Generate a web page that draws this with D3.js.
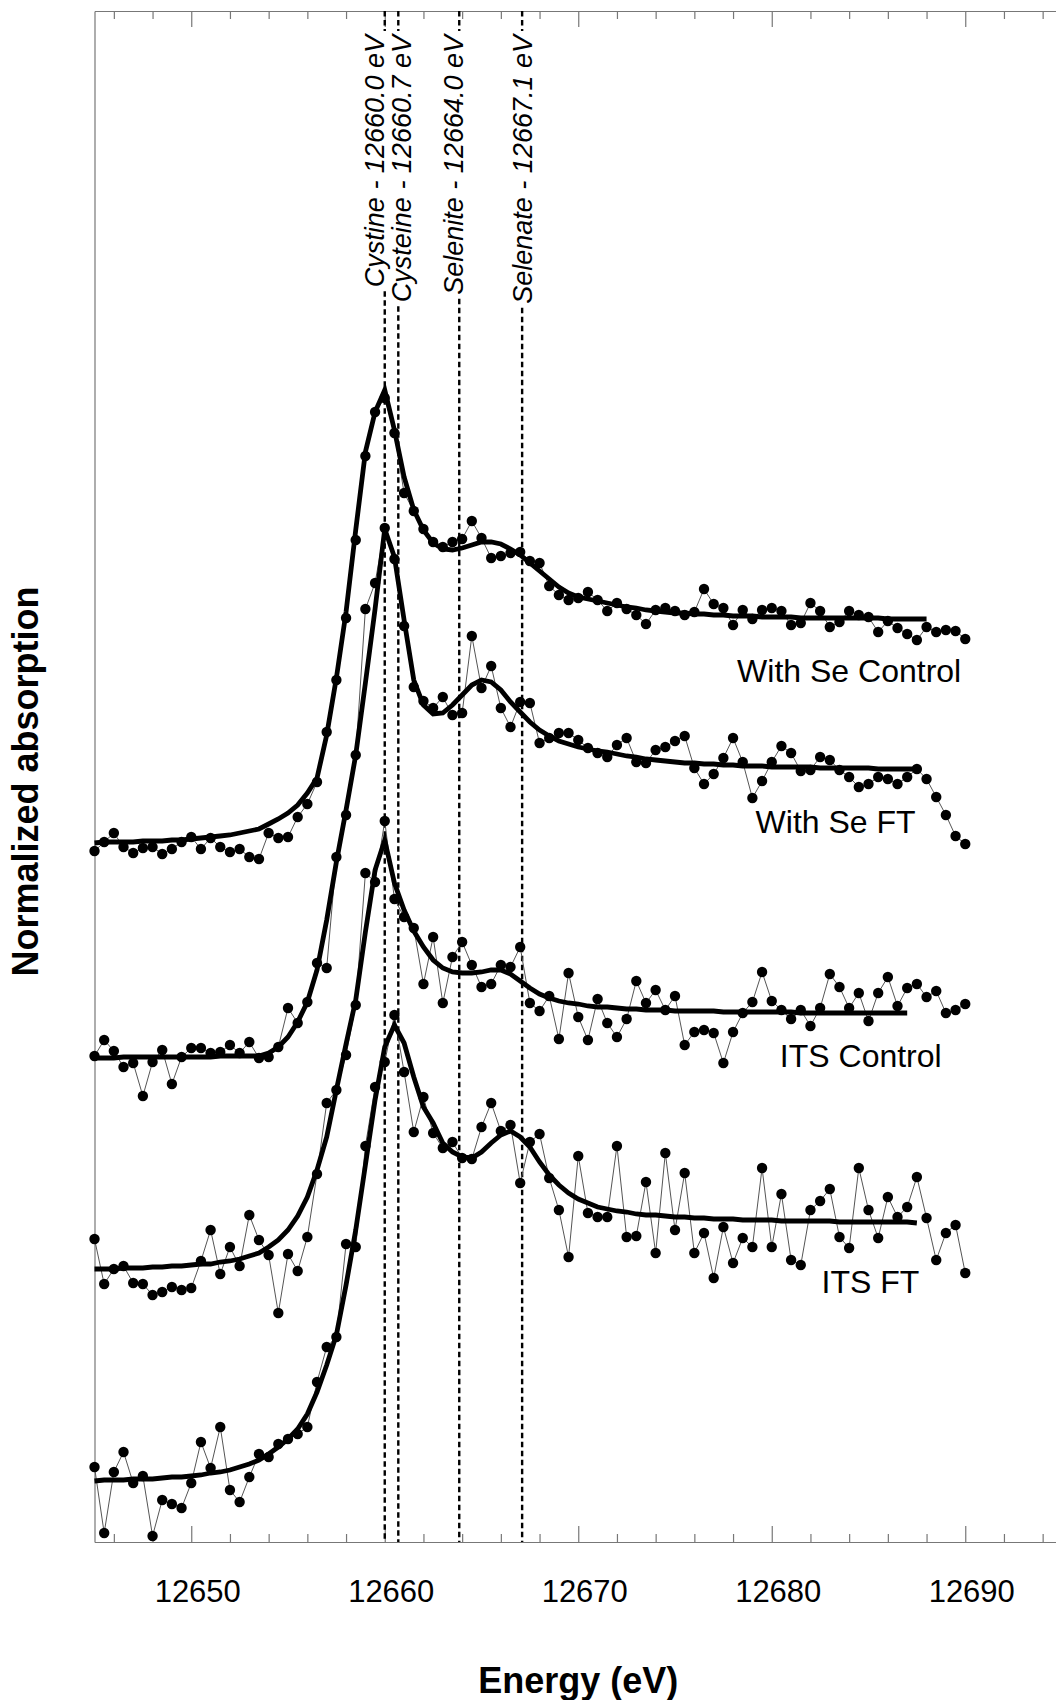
<!DOCTYPE html>
<html>
<head>
<meta charset="utf-8">
<script src="https://cdn.jsdelivr.net/npm/d3@7/dist/d3.min.js"></script>
<style>
  body { margin: 0; background: #fff; }
  svg { display: block; font-family: "Liberation Sans", Arial, sans-serif; }
</style>
</head>
<body>
<div id="chart"></div>
<script>
// scan grid: 12645 eV upward in 0.5 eV steps
const energyStart = 12645, energyStep = 0.5;

// stacked normalized absorption (each spectrum carries its own vertical offset)
const withSeControl = [
  6.91, 7.00, 7.09, 6.95, 6.89, 6.94, 6.95, 6.88, 6.93, 7.00,
  7.05, 6.93, 7.04, 6.95, 6.90, 6.93, 6.85, 6.83, 7.09, 7.04,
  7.05, 7.25, 7.38, 7.60, 8.10, 8.62, 9.24, 10.02, 10.86, 11.30,
  11.44, 11.09, 10.49, 10.31, 10.13, 10.00, 9.95, 10.00, 10.03, 10.21,
  10.04, 9.84, 9.86, 9.89, 9.90, 9.81, 9.79, 9.56, 9.47, 9.42,
  9.44, 9.50, 9.42, 9.31, 9.39, 9.33, 9.27, 9.18, 9.32, 9.34,
  9.31, 9.27, 9.30, 9.53, 9.38, 9.34, 9.17, 9.32, 9.23, 9.32,
  9.34, 9.31, 9.17, 9.19, 9.39, 9.31, 9.15, 9.20, 9.31, 9.27,
  9.25, 9.10, 9.21, 9.14, 9.08, 9.02, 9.15, 9.10, 9.12, 9.11,
  9.03];
const withSeControlFit = [
  6.99, 7.00, 7.00, 7.00, 7.00, 7.01, 7.01, 7.01, 7.02, 7.02,
  7.03, 7.04, 7.05, 7.06, 7.07, 7.09, 7.11, 7.13, 7.18, 7.23,
  7.29, 7.37, 7.49, 7.64, 8.07, 8.64, 9.30, 10.12, 10.90, 11.30,
  11.52, 11.12, 10.65, 10.32, 10.12, 9.99, 9.93, 9.92, 9.94, 9.97,
  10.00, 10.00, 9.98, 9.93, 9.87, 9.79, 9.71, 9.63, 9.55, 9.49,
  9.45, 9.43, 9.41, 9.39, 9.37, 9.35, 9.34, 9.32, 9.31, 9.30,
  9.29, 9.29, 9.28, 9.28, 9.27, 9.27, 9.26, 9.26, 9.26, 9.25,
  9.25, 9.25, 9.25, 9.24, 9.24, 9.24, 9.24, 9.24, 9.24, 9.24,
  9.24, 9.24, 9.23, 9.23, 9.23, 9.23, 9.23];

const withSeFT = [
  4.86, 5.02, 4.91, 4.75, 4.79, 4.46, 4.80, 4.92, 4.58, 4.85,
  4.94, 4.94, 4.89, 4.90, 4.97, 4.89, 5.00, 4.84, 4.85, 4.95,
  5.34, 5.19, 5.40, 5.79, 5.74, 6.85, 7.27, 7.87, 9.33, 9.59,
  10.14, 9.83, 9.16, 8.55, 8.41, 8.34, 8.45, 8.27, 8.29, 9.06,
  8.54, 8.76, 8.34, 8.15, 8.40, 8.39, 7.99, 8.04, 8.09, 8.09,
  8.02, 7.94, 7.89, 7.85, 7.97, 8.04, 7.80, 7.79, 7.92, 7.95,
  8.01, 8.06, 7.74, 7.58, 7.68, 7.84, 8.04, 7.80, 7.44, 7.61,
  7.80, 7.96, 7.89, 7.71, 7.72, 7.85, 7.82, 7.72, 7.65, 7.55,
  7.58, 7.65, 7.63, 7.58, 7.65, 7.73, 7.63, 7.45, 7.27, 7.06,
  6.98];
const withSeFTFit = [
  4.84, 4.84, 4.84, 4.85, 4.85, 4.85, 4.85, 4.85, 4.85, 4.85,
  4.85, 4.85, 4.85, 4.86, 4.86, 4.86, 4.86, 4.86, 4.89, 4.95,
  5.05, 5.20, 5.40, 5.72, 6.22, 6.80, 7.32, 7.87, 8.59, 9.33,
  10.13, 9.85, 9.22, 8.62, 8.37, 8.28, 8.29, 8.37, 8.47, 8.57,
  8.62, 8.60, 8.52, 8.40, 8.30, 8.20, 8.12, 8.06, 8.01, 7.98,
  7.95, 7.93, 7.91, 7.90, 7.88, 7.86, 7.85, 7.83, 7.82, 7.81,
  7.80, 7.79, 7.79, 7.78, 7.78, 7.77, 7.77, 7.76, 7.76, 7.76,
  7.75, 7.75, 7.75, 7.75, 7.75, 7.74, 7.74, 7.74, 7.74, 7.74,
  7.74, 7.73, 7.73, 7.73, 7.73, 7.73];

const itsControl = [
  3.03, 2.58, 2.73, 2.76, 2.59, 2.58, 2.47, 2.50, 2.55, 2.52,
  2.54, 2.81, 3.12, 2.68, 2.95, 2.76, 3.27, 3.02, 2.87, 2.29,
  2.88, 2.71, 3.05, 3.68, 4.39, 4.52, 4.87, 5.37, 6.69, 6.60,
  7.21, 6.43, 6.25, 6.14, 5.58, 6.05, 5.39, 5.85, 6.00, 5.77,
  5.55, 5.58, 5.77, 5.75, 5.95, 5.39, 5.31, 5.46, 5.03, 5.69,
  5.25, 5.02, 5.43, 5.19, 5.05, 5.23, 5.61, 5.39, 5.52, 5.32,
  5.46, 4.97, 5.10, 5.12, 5.09, 4.79, 5.10, 5.29, 5.40, 5.70,
  5.41, 5.32, 5.23, 5.32, 5.16, 5.34, 5.68, 5.55, 5.34, 5.49,
  5.21, 5.49, 5.65, 5.36, 5.54, 5.58, 5.45, 5.51, 5.29, 5.32,
  5.38];
const itsControlFit = [
  2.73, 2.73, 2.73, 2.74, 2.74, 2.74, 2.75, 2.75, 2.76, 2.76,
  2.77, 2.78, 2.78, 2.80, 2.81, 2.83, 2.86, 2.89, 2.95, 3.02,
  3.12, 3.26, 3.45, 3.72, 4.05, 4.52, 4.98, 5.42, 6.10, 6.72,
  7.02, 6.59, 6.32, 6.11, 5.95, 5.82, 5.74, 5.70, 5.69, 5.69,
  5.70, 5.72, 5.72, 5.68, 5.61, 5.54, 5.48, 5.44, 5.41, 5.39,
  5.38, 5.36, 5.35, 5.35, 5.34, 5.33, 5.33, 5.32, 5.32, 5.32,
  5.31, 5.31, 5.31, 5.31, 5.31, 5.30, 5.30, 5.30, 5.30, 5.30,
  5.30, 5.30, 5.30, 5.29, 5.29, 5.29, 5.29, 5.29, 5.29, 5.29,
  5.29, 5.29, 5.29, 5.29, 5.29];

const itsFT = [
  0.75, 0.09, 0.70, 0.90, 0.59, 0.66, 0.06, 0.42, 0.38, 0.34,
  0.59, 1.00, 0.74, 1.15, 0.52, 0.40, 0.65, 0.88, 0.85, 0.98,
  1.03, 1.08, 1.15, 1.60, 1.95, 2.05, 2.98, 2.95, 3.96, 4.55,
  4.80, 5.27, 4.70, 4.10, 4.45, 4.09, 3.94, 4.00, 3.84, 3.83,
  4.15, 4.39, 4.11, 4.17, 3.59, 4.00, 4.08, 3.64, 3.32, 2.85,
  3.86, 3.29, 3.25, 3.25, 3.96, 3.05, 3.06, 3.60, 2.89, 3.89,
  3.12, 3.69, 2.89, 3.09, 2.64, 3.15, 2.79, 3.04, 2.95, 3.74,
  2.95, 3.48, 2.82, 2.77, 3.32, 3.41, 3.53, 3.05, 2.94, 3.74,
  3.32, 3.04, 3.45, 3.25, 3.35, 3.65, 3.24, 2.82, 3.09, 3.17,
  2.69];
const itsFTFit = [
  0.61, 0.62, 0.62, 0.62, 0.63, 0.63, 0.63, 0.64, 0.65, 0.65,
  0.66, 0.67, 0.69, 0.70, 0.72, 0.75, 0.78, 0.82, 0.88, 0.95,
  1.03, 1.13, 1.28, 1.50, 1.77, 2.07, 2.57, 3.12, 3.77, 4.42,
  4.95, 5.17, 4.99, 4.65, 4.35, 4.19, 3.99, 3.90, 3.85, 3.84,
  3.90, 3.99, 4.07, 4.11, 4.05, 3.95, 3.80, 3.67, 3.57, 3.49,
  3.43, 3.39, 3.35, 3.33, 3.31, 3.30, 3.28, 3.27, 3.27, 3.26,
  3.25, 3.25, 3.24, 3.24, 3.23, 3.23, 3.23, 3.22, 3.22, 3.22,
  3.22, 3.21, 3.21, 3.21, 3.21, 3.21, 3.21, 3.20, 3.20, 3.20,
  3.20, 3.20, 3.20, 3.20, 3.20, 3.19];

const seriesNames = ["With Se Control", "With Se FT", "ITS Control", "ITS FT"];
// where each name sits (energy, stacked absorption)
const nameEnergy = [12684.0, 12683.3, 12684.6, 12685.1];
const nameValue = [8.60, 7.09, 4.75, 2.49];

// reference edge energies
const refNames = ["Cystine", "Cysteine", "Selenite", "Selenate"];
const refLabels = ["12660.0", "12660.7", "12664.0", "12667.1"];
const refEnergies = [12660.0, 12660.7, 12663.85, 12667.1];

const majorTicks = [12650, 12660, 12670, 12680, 12690];
const minorTicks = d3.range(12646, 12695, 2).filter(d => d % 10 !== 0);

const width = 1056, height = 1700;
const xScale = d3.scaleLinear().domain([12645, 12695]).range([94.5, 1062]);
const yScale = d3.scaleLinear().domain([0, 15.31]).range([1542, 11]);
const axisColor = "#777";

const svg = d3.select("#chart").append("svg")
    .attr("width", width)
    .attr("height", height);

// frame: bottom axis with inward ticks, top axis with inward ticks, plain left line
const bottomAxis = svg.append("g").attr("transform", `translate(0,${yScale(0)})`);
bottomAxis.call(d3.axisBottom(xScale).tickValues(minorTicks).tickSizeInner(-8).tickSizeOuter(0).tickFormat(""));
bottomAxis.append("g").call(d3.axisBottom(xScale).tickValues(majorTicks).tickSizeInner(-16).tickSizeOuter(0)
    .tickPadding(38).tickFormat(d3.format("d")));
bottomAxis.selectAll("path, line").attr("stroke", axisColor).attr("stroke-width", 1.2);
bottomAxis.selectAll("text")
    .attr("dx", 6)
    .attr("fill", "#000")
    .style("font-size", "31px")
    .style("font-family", "'Liberation Sans', Arial, sans-serif");

const topAxis = svg.append("g").attr("transform", `translate(0,${yScale(15.31)})`);
topAxis.call(d3.axisTop(xScale).tickValues(minorTicks).tickSizeInner(-8).tickSizeOuter(0).tickFormat(""));
topAxis.append("g").call(d3.axisTop(xScale).tickValues(majorTicks).tickSizeInner(-16).tickSizeOuter(0).tickFormat(""));
topAxis.selectAll("path, line").attr("stroke", axisColor).attr("stroke-width", 1.2);

const leftAxis = svg.append("g").attr("transform", `translate(${xScale(12645)},0)`);
leftAxis.call(d3.axisLeft(yScale).tickValues([]).tickSizeOuter(0));
leftAxis.selectAll("path").attr("stroke", axisColor).attr("stroke-width", 1.2);

// reference lines with rotated italic labels; the dashes stop where the label sits
const refDx = [-1, 12.5, 4, 9.5];
const labelTop = 35;
refEnergies.forEach((e, i) => {
  const lx = xScale(e);
  const t = svg.append("text")
      .attr("transform", `translate(${lx + refDx[i]},${labelTop}) rotate(-90)`)
      .attr("text-anchor", "end")
      .style("font-style", "italic")
      .style("font-size", "27px")
      .text(`${refNames[i]} - ${refLabels[i]} eV`);
  const len = t.node().getComputedTextLength();
  const segs = [[yScale(15.31), labelTop - 4], [labelTop + len + 4, yScale(0)]];
  segs.forEach(([y1, y2]) => {
    svg.append("line")
        .attr("x1", lx).attr("x2", lx)
        .attr("y1", y1).attr("y2", y2)
        .attr("stroke", "#000")
        .attr("stroke-width", 2.4)
        .attr("stroke-dasharray", "5.5,3.5");
  });
});

// spectra: thin line through measured points, thick fitted curve
const spectra = [
  { data: withSeControl, fit: withSeControlFit },
  { data: withSeFT, fit: withSeFTFit },
  { data: itsControl, fit: itsControlFit },
  { data: itsFT, fit: itsFTFit }
];

const line = d3.line()
    .x((d, i) => xScale(energyStart + i * energyStep))
    .y(d => yScale(d));

spectra.forEach(s => {
  const g = svg.append("g");
  g.append("path")
      .attr("d", line(s.data))
      .attr("fill", "none")
      .attr("stroke", "#555")
      .attr("stroke-width", 1);
  g.selectAll("circle")
      .data(s.data)
      .enter().append("circle")
      .attr("cx", (d, i) => xScale(energyStart + i * energyStep))
      .attr("cy", d => yScale(d))
      .attr("r", 5.2)
      .attr("fill", "#000");
  g.append("path")
      .attr("d", line(s.fit))
      .attr("fill", "none")
      .attr("stroke", "#000")
      .attr("stroke-width", 4.8);
});

svg.selectAll(".series-name")
    .data(seriesNames)
    .enter().append("text")
    .attr("class", "series-name")
    .attr("x", (d, i) => xScale(nameEnergy[i]))
    .attr("y", (d, i) => yScale(nameValue[i]))
    .attr("text-anchor", "middle")
    .style("font-size", "32px")
    .text(d => d);

// axis titles
svg.append("text")
    .attr("x", (xScale(12645) + xScale(12695)) / 2)
    .attr("y", 1693)
    .attr("text-anchor", "middle")
    .style("font-size", "36px")
    .style("font-weight", "bold")
    .text("Energy (eV)");

svg.append("text")
    .attr("transform", `translate(38,${(yScale(0) + yScale(15.31)) / 2 + 5}) rotate(-90)`)
    .attr("text-anchor", "middle")
    .style("font-size", "36px")
    .style("font-weight", "bold")
    .text("Normalized absorption");
</script>
</body>
</html>
